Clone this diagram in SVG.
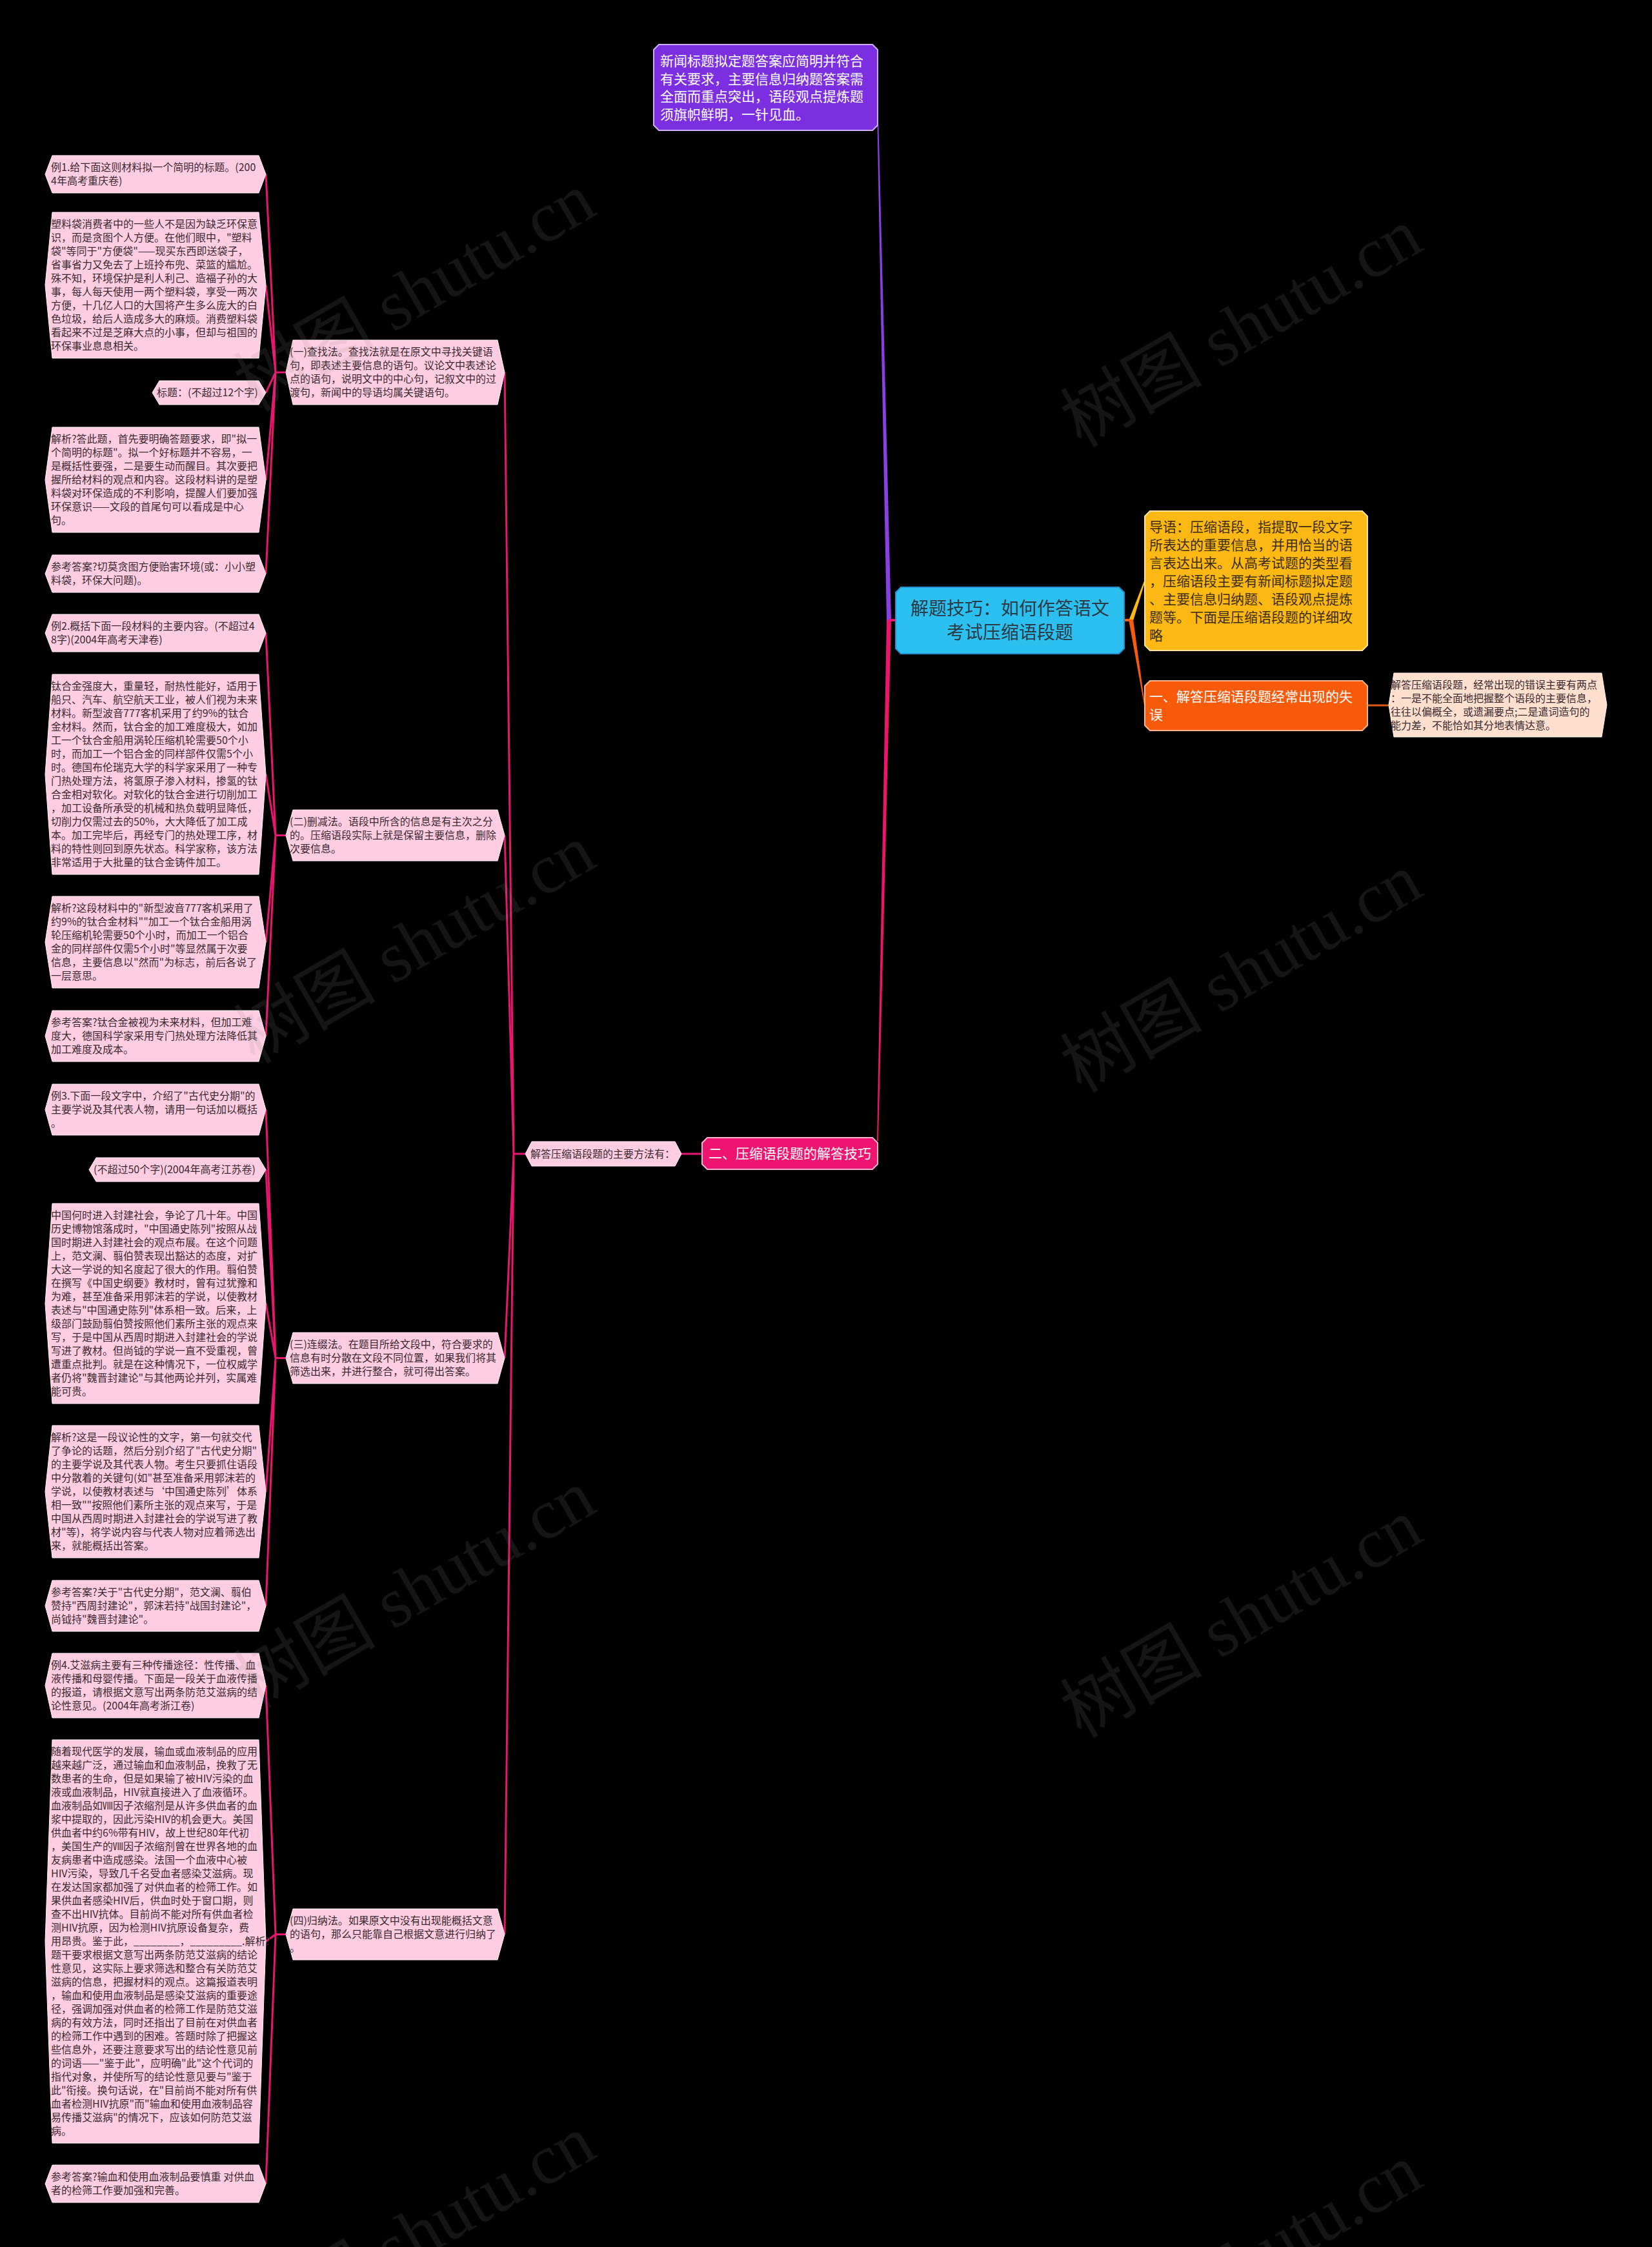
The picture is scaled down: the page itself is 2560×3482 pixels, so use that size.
<svg xmlns="http://www.w3.org/2000/svg" width="2560" height="3482" viewBox="0 0 2560 3482">
<style>
.bg{fill:#000}
.leaf{fill:#ffcde1;stroke:#fff2f7;stroke-width:1}
.t{font-family:"Noto Sans CJK SC","Noto Sans",sans-serif}
.lt{font-size:16px;fill:#3a2a31}
.ln{fill:none;stroke:#e8166e;stroke-width:3;stroke-linejoin:round}
.wm{font-family:"Liberation Serif","Noto Sans CJK SC",serif;font-size:110px;fill:#8a8a8a;opacity:.15}
</style>
<rect class="bg" x="0" y="0" width="2560" height="3482"/>

<g id="connectors">
  <polygon points="1374,961 1381,961 1361.5,194 1359.5,194" fill="#8a3fe3"/>
  <polygon points="1374,961 1381,961 1361,1768 1359,1768" fill="#ec1569"/>
  <rect x="1378" y="959" width="10" height="4" fill="#ec1569"/>
  <rect x="1742" y="959" width="10" height="4" fill="#f65a0c"/>
  <polygon points="1749,962 1756,962 1774.5,901 1773.5,899" fill="#fdb813"/>
  <polygon points="1749,960 1756,960 1774.5,1094 1773,1092" fill="#f65a0c"/>
  <path d="M2119 1093 H2152" fill="none" stroke="#e0561a" stroke-width="3"/>
  <path class="ln" d="M1088 1788 H1056"/>
  <path class="ln" d="M814 1788 H796 L782 577 M796 1788 L782 1294.5 M796 1788 L782 2104.5 M796 1788 L782 2997.5"/>
  <path class="ln" d="M443 577 H427 L412 270 M427 577 L412 442 M427 577 L412 608.5 M427 577 L412 743.5 M427 577 L412 889"/>
  <path class="ln" d="M443 1294.5 H427 L412 981 M427 1294.5 L412 1200 M427 1294.5 L412 1460 M427 1294.5 L412 1605.5"/>
  <path class="ln" d="M443 2104.5 H427 L412 1719.5 M427 2104.5 L412 1812.5 M427 2104.5 L412 2020 M427 2104.5 L412 2311.5 M427 2104.5 L412 2488.5"/>
  <path class="ln" d="M443 2997.5 H427 L412 2612 M427 2997.5 L412 3008.5 M427 2997.5 L412 3384"/>
</g>

<g id="node-top">
  <polygon points="1021,69 1352,69 1360,77 1360,194 1352,202 1021,202 1013,194 1013,77" fill="#7b2fe0" stroke="#cdb0f7" stroke-width="2"/>
  <text class="t" font-size="21" fill="#fff"><tspan x="1023" y="102">新闻标题拟定题答案应简明并符合</tspan><tspan x="1023" y="130">有关要求，主要信息归纳题答案需</tspan><tspan x="1023" y="157">全面而重点突出，语段观点提炼题</tspan><tspan x="1023" y="185">须旗帜鲜明，一针见血。</tspan></text>
</g>

<g id="node-center">
  <polygon points="1396,910 1734,910 1742,918 1742,1005 1734,1013 1396,1013 1388,1005 1388,918" fill="#2bc0f0" stroke="#2a8fd0" stroke-width="2"/>
  <text class="t" font-size="28" fill="#2b3a44" text-anchor="middle"><tspan x="1565" y="953">解题技巧：如何作答语文</tspan><tspan x="1565" y="990">考试压缩语段题</tspan></text>
</g>

<g id="node-intro">
  <polygon points="1782,792 2111,792 2119,800 2119,1000 2111,1008 1782,1008 1774,1000 1774,800" fill="#fdb813" stroke="#ffe39a" stroke-width="2"/>
  <text class="t" font-size="21" fill="#3a2d10"><tspan x="1781" y="824">导语：压缩语段，指提取一段文字</tspan><tspan x="1781" y="852">所表达的重要信息，并用恰当的语</tspan><tspan x="1781" y="880">言表达出来。从高考试题的类型看</tspan><tspan x="1781" y="908">，压缩语段主要有新闻标题拟定题</tspan><tspan x="1781" y="936">、主要信息归纳题、语段观点提炼</tspan><tspan x="1781" y="964">题等。下面是压缩语段题的详细攻</tspan><tspan x="1781" y="992">略</tspan></text>
</g>

<g id="node-part1">
  <polygon points="1782,1055 2111,1055 2119,1063 2119,1124 2111,1132 1782,1132 1774,1124 1774,1063" fill="#f85a0c" stroke="#ffb48c" stroke-width="2"/>
  <text class="t" font-size="21" fill="#fff"><tspan x="1781" y="1087">一、解答压缩语段题经常出现的失</tspan><tspan x="1781" y="1115">误</tspan></text>
</g>

<g id="node-part1-leaf">
  <polygon points="2152,1092.5 2160,1043 2482,1043 2490,1092.5 2482,1142 2160,1142" fill="#ffe0cf" stroke="#fff3ea" stroke-width="1"/>
  <text class="t lt"><tspan x="2155" y="1067">解答压缩语段题，经常出现的错误主要有两点</tspan><tspan x="2155" y="1088">：一是不能全面地把握整个语段的主要信息，</tspan><tspan x="2155" y="1109">往往以偏概全，或遗漏要点;二是遣词造句的</tspan><tspan x="2155" y="1130">能力差，不能恰如其分地表情达意。</tspan></text>
</g>

<g id="node-part2">
  <polygon points="1096,1763 1352,1763 1360,1771 1360,1804 1352,1812 1096,1812 1088,1804 1088,1771" fill="#ef1470" stroke="#ffb3d1" stroke-width="2"/>
  <text class="t" font-size="21" fill="#fff" text-anchor="middle" x="1224" y="1795">二、压缩语段题的解答技巧</text>
</g>

<g id="node-methods">
  <polygon points="814,1788 824,1769 1046,1769 1056,1788 1046,1807 824,1807" class="leaf"/>
  <text class="t lt" x="822" y="1794">解答压缩语段题的主要方法有：</text>
</g>

<g id="node-m1">
  <polygon points="443,577 454,527 771,527 782,577 771,627 454,627" class="leaf"/>
  <text class="t lt"><tspan x="449" y="551">(一)查找法。查找法就是在原文中寻找关键语</tspan><tspan x="449" y="572">句，即表述主要信息的语句。议论文中表述论</tspan><tspan x="449" y="593">点的语句，说明文中的中心句，记叙文中的过</tspan><tspan x="449" y="614">渡句，新闻中的导语均属关键语句。</tspan></text>
</g>

<g id="node-m2">
  <polygon points="443,1294.5 454,1255 771,1255 782,1294.5 771,1334 454,1334" class="leaf"/>
  <text class="t lt"><tspan x="449" y="1279">(二)删减法。语段中所含的信息是有主次之分</tspan><tspan x="449" y="1300">的。压缩语段实际上就是保留主要信息，删除</tspan><tspan x="449" y="1321">次要信息。</tspan></text>
</g>

<g id="node-m3">
  <polygon points="443,2104.5 454,2065 771,2065 782,2104.5 771,2144 454,2144" class="leaf"/>
  <text class="t lt"><tspan x="449" y="2089">(三)连缀法。在题目所给文段中，符合要求的</tspan><tspan x="449" y="2110">信息有时分散在文段不同位置，如果我们将其</tspan><tspan x="449" y="2131">筛选出来，并进行整合，就可得出答案。</tspan></text>
</g>

<g id="node-m4">
  <polygon points="443,2997.5 454,2958 771,2958 782,2997.5 771,3037 454,3037" class="leaf"/>
  <text class="t lt"><tspan x="449" y="2982">(四)归纳法。如果原文中没有出现能概括文意</tspan><tspan x="449" y="3003">的语句，那么只能靠自己根据文意进行归纳了</tspan><tspan x="449" y="3024">。</tspan></text>
</g>

<g id="leaf-1">
  <polygon points="70,270 81,241 401,241 412,270 401,299 81,299" class="leaf"/>
  <text class="t lt"><tspan x="79" y="265">例1.给下面这则材料拟一个简明的标题。(200</tspan><tspan x="79" y="286">4年高考重庆卷)</tspan></text>
</g>

<g id="leaf-2">
  <polygon points="70,442 81,329 401,329 412,442 401,555 81,555" class="leaf"/>
  <text class="t lt"><tspan x="79" y="353">塑料袋消费者中的一些人不是因为缺乏环保意</tspan><tspan x="79" y="374">识，而是贪图个人方便。在他们眼中，"塑料</tspan><tspan x="79" y="395">袋"等同于"方便袋"——现买东西即送袋子，</tspan><tspan x="79" y="416">省事省力又免去了上班拎布兜、菜篮的尴尬。</tspan><tspan x="79" y="437">殊不知，环境保护是利人利己、造福子孙的大</tspan><tspan x="79" y="458">事，每人每天使用一两个塑料袋，享受一两次</tspan><tspan x="79" y="479">方便，十几亿人口的大国将产生多么庞大的白</tspan><tspan x="79" y="500">色垃圾，给后人造成多大的麻烦。消费塑料袋</tspan><tspan x="79" y="521">看起来不过是芝麻大点的小事，但却与祖国的</tspan><tspan x="79" y="542">环保事业息息相关。</tspan></text>
</g>

<g id="leaf-3">
  <polygon points="236,608.5 247,590 401,590 412,608.5 401,627 247,627" class="leaf"/>
  <text class="t lt" x="243" y="614">标题：(不超过12个字)</text>
</g>

<g id="leaf-4">
  <polygon points="70,743.5 81,662 401,662 412,743.5 401,825 81,825" class="leaf"/>
  <text class="t lt"><tspan x="79" y="686">解析?答此题，首先要明确答题要求，即"拟一</tspan><tspan x="79" y="707">个简明的标题"。拟一个好标题并不容易，一</tspan><tspan x="79" y="728">是概括性要强，二是要生动而醒目。其次要把</tspan><tspan x="79" y="749">握所给材料的观点和内容。这段材料讲的是塑</tspan><tspan x="79" y="770">料袋对环保造成的不利影响，提醒人们要加强</tspan><tspan x="79" y="791">环保意识——文段的首尾句可以看成是中心</tspan><tspan x="79" y="812">句。</tspan></text>
</g>

<g id="leaf-5">
  <polygon points="70,889 81,860 401,860 412,889 401,918 81,918" class="leaf"/>
  <text class="t lt"><tspan x="79" y="884">参考答案?切莫贪图方便贻害环境(或：小小塑</tspan><tspan x="79" y="905">料袋，环保大问题)。</tspan></text>
</g>

<g id="leaf-6">
  <polygon points="70,981 81,952 401,952 412,981 401,1010 81,1010" class="leaf"/>
  <text class="t lt"><tspan x="79" y="976">例2.概括下面一段材料的主要内容。(不超过4</tspan><tspan x="79" y="997">8字)(2004年高考天津卷)</tspan></text>
</g>

<g id="leaf-7">
  <polygon points="70,1200 81,1045 401,1045 412,1200 401,1355 81,1355" class="leaf"/>
  <text class="t lt"><tspan x="79" y="1069">钛合金强度大，重量轻，耐热性能好，适用于</tspan><tspan x="79" y="1090">船只、汽车、航空航天工业，被人们视为未来</tspan><tspan x="79" y="1111">材料。新型波音777客机采用了约9%的钛合</tspan><tspan x="79" y="1132">金材料。然而，钛合金的加工难度极大，如加</tspan><tspan x="79" y="1153">工一个钛合金船用涡轮压缩机轮需要50个小</tspan><tspan x="79" y="1174">时，而加工一个铝合金的同样部件仅需5个小</tspan><tspan x="79" y="1195">时。德国布伦瑞克大学的科学家采用了一种专</tspan><tspan x="79" y="1216">门热处理方法，将氢原子渗入材料，掺氢的钛</tspan><tspan x="79" y="1237">合金相对软化。对软化的钛合金进行切削加工</tspan><tspan x="79" y="1258">，加工设备所承受的机械和热负载明显降低，</tspan><tspan x="79" y="1279">切削力仅需过去的50%，大大降低了加工成</tspan><tspan x="79" y="1300">本。加工完毕后，再经专门的热处理工序，材</tspan><tspan x="79" y="1321">料的特性则回到原先状态。科学家称，该方法</tspan><tspan x="79" y="1342">非常适用于大批量的钛合金铸件加工。</tspan></text>
</g>

<g id="leaf-8">
  <polygon points="70,1460 81,1389 401,1389 412,1460 401,1531 81,1531" class="leaf"/>
  <text class="t lt"><tspan x="79" y="1413">解析?这段材料中的"新型波音777客机采用了</tspan><tspan x="79" y="1434">约9%的钛合金材料""加工一个钛合金船用涡</tspan><tspan x="79" y="1455">轮压缩机轮需要50个小时，而加工一个铝合</tspan><tspan x="79" y="1476">金的同样部件仅需5个小时"等显然属于次要</tspan><tspan x="79" y="1497">信息，主要信息以"然而"为标志，前后各说了</tspan><tspan x="79" y="1518">一层意思。</tspan></text>
</g>

<g id="leaf-9">
  <polygon points="70,1605.5 81,1566 401,1566 412,1605.5 401,1645 81,1645" class="leaf"/>
  <text class="t lt"><tspan x="79" y="1590">参考答案?钛合金被视为未来材料，但加工难</tspan><tspan x="79" y="1611">度大，德国科学家采用专门热处理方法降低其</tspan><tspan x="79" y="1632">加工难度及成本。</tspan></text>
</g>

<g id="leaf-10">
  <polygon points="70,1719.5 81,1680 401,1680 412,1719.5 401,1759 81,1759" class="leaf"/>
  <text class="t lt"><tspan x="79" y="1704">例3.下面一段文字中，介绍了"古代史分期"的</tspan><tspan x="79" y="1725">主要学说及其代表人物，请用一句话加以概括</tspan><tspan x="79" y="1746">。</tspan></text>
</g>

<g id="leaf-11">
  <polygon points="138,1812.5 149,1794 401,1794 412,1812.5 401,1831 149,1831" class="leaf"/>
  <text class="t lt" x="145" y="1818">(不超过50个字)(2004年高考江苏卷)</text>
</g>

<g id="leaf-12">
  <polygon points="70,2020 81,1865 401,1865 412,2020 401,2175 81,2175" class="leaf"/>
  <text class="t lt"><tspan x="79" y="1889">中国何时进入封建社会，争论了几十年。中国</tspan><tspan x="79" y="1910">历史博物馆落成时，"中国通史陈列"按照从战</tspan><tspan x="79" y="1931">国时期进入封建社会的观点布展。在这个问题</tspan><tspan x="79" y="1952">上，范文澜、翦伯赞表现出豁达的态度，对扩</tspan><tspan x="79" y="1973">大这一学说的知名度起了很大的作用。翦伯赞</tspan><tspan x="79" y="1994">在撰写《中国史纲要》教材时，曾有过犹豫和</tspan><tspan x="79" y="2015">为难，甚至准备采用郭沫若的学说，以使教材</tspan><tspan x="79" y="2036">表述与"中国通史陈列"体系相一致。后来，上</tspan><tspan x="79" y="2057">级部门鼓励翦伯赞按照他们素所主张的观点来</tspan><tspan x="79" y="2078">写，于是中国从西周时期进入封建社会的学说</tspan><tspan x="79" y="2099">写进了教材。但尚钺的学说一直不受重视，曾</tspan><tspan x="79" y="2120">遭重点批判。就是在这种情况下，一位权威学</tspan><tspan x="79" y="2141">者仍将"魏晋封建论"与其他两论并列，实属难</tspan><tspan x="79" y="2162">能可贵。</tspan></text>
</g>

<g id="leaf-13">
  <polygon points="70,2311.5 81,2209 401,2209 412,2311.5 401,2414 81,2414" class="leaf"/>
  <text class="t lt"><tspan x="79" y="2233">解析?这是一段议论性的文字，第一句就交代</tspan><tspan x="79" y="2254">了争论的话题，然后分别介绍了"古代史分期"</tspan><tspan x="79" y="2275">的主要学说及其代表人物。考生只要抓住语段</tspan><tspan x="79" y="2296">中分散着的关键句(如"甚至准备采用郭沫若的</tspan><tspan x="79" y="2317">学说，以使教材表述与‘中国通史陈列’体系</tspan><tspan x="79" y="2338">相一致""按照他们素所主张的观点来写，于是</tspan><tspan x="79" y="2359">中国从西周时期进入封建社会的学说写进了教</tspan><tspan x="79" y="2380">材"等)，将学说内容与代表人物对应着筛选出</tspan><tspan x="79" y="2401">来，就能概括出答案。</tspan></text>
</g>

<g id="leaf-14">
  <polygon points="70,2488.5 81,2449 401,2449 412,2488.5 401,2528 81,2528" class="leaf"/>
  <text class="t lt"><tspan x="79" y="2473">参考答案?关于"古代史分期"，范文澜、翦伯</tspan><tspan x="79" y="2494">赞持"西周封建论"，郭沫若持"战国封建论"，</tspan><tspan x="79" y="2515">尚钺持"魏晋封建论"。</tspan></text>
</g>

<g id="leaf-15">
  <polygon points="70,2612 81,2562 401,2562 412,2612 401,2662 81,2662" class="leaf"/>
  <text class="t lt"><tspan x="79" y="2586">例4.艾滋病主要有三种传播途径：性传播、血</tspan><tspan x="79" y="2607">液传播和母婴传播。下面是一段关于血液传播</tspan><tspan x="79" y="2628">的报道，请根据文意写出两条防范艾滋病的结</tspan><tspan x="79" y="2649">论性意见。(2004年高考浙江卷)</tspan></text>
</g>

<g id="leaf-16">
  <polygon points="70,3008.5 81,2696 401,2696 412,3008.5 401,3321 81,3321" class="leaf"/>
  <text class="t lt"><tspan x="79" y="2720">随着现代医学的发展，输血或血液制品的应用</tspan><tspan x="79" y="2741">越来越广泛，通过输血和血液制品，挽救了无</tspan><tspan x="79" y="2762">数患者的生命，但是如果输了被HIV污染的血</tspan><tspan x="79" y="2783">液或血液制品，HIV就直接进入了血液循环。</tspan><tspan x="79" y="2804">血液制品如Ⅷ因子浓缩剂是从许多供血者的血</tspan><tspan x="79" y="2825">浆中提取的，因此污染HIV的机会更大。美国</tspan><tspan x="79" y="2846">供血者中约6%带有HIV，故上世纪80年代初</tspan><tspan x="79" y="2867">，美国生产的Ⅷ因子浓缩剂曾在世界各地的血</tspan><tspan x="79" y="2888">友病患者中造成感染。法国一个血液中心被</tspan><tspan x="79" y="2909">HIV污染，导致几千名受血者感染艾滋病。现</tspan><tspan x="79" y="2930">在发达国家都加强了对供血者的检筛工作。如</tspan><tspan x="79" y="2951">果供血者感染HIV后，供血时处于窗口期，则</tspan><tspan x="79" y="2972">查不出HIV抗体。目前尚不能对所有供血者检</tspan><tspan x="79" y="2993">测HIV抗原，因为检测HIV抗原设备复杂，费</tspan><tspan x="79" y="3014">用昂贵。鉴于此，________，_________.解析?</tspan><tspan x="79" y="3035">题干要求根据文意写出两条防范艾滋病的结论</tspan><tspan x="79" y="3056">性意见，这实际上要求筛选和整合有关防范艾</tspan><tspan x="79" y="3077">滋病的信息，把握材料的观点。这篇报道表明</tspan><tspan x="79" y="3098">，输血和使用血液制品是感染艾滋病的重要途</tspan><tspan x="79" y="3119">径，强调加强对供血者的检筛工作是防范艾滋</tspan><tspan x="79" y="3140">病的有效方法，同时还指出了目前在对供血者</tspan><tspan x="79" y="3161">的检筛工作中遇到的困难。答题时除了把握这</tspan><tspan x="79" y="3182">些信息外，还要注意要求写出的结论性意见前</tspan><tspan x="79" y="3203">的词语——"鉴于此"，应明确"此"这个代词的</tspan><tspan x="79" y="3224">指代对象，并使所写的结论性意见要与"鉴于</tspan><tspan x="79" y="3245">此"衔接。换句话说，在"目前尚不能对所有供</tspan><tspan x="79" y="3266">血者检测HIV抗原"而"输血和使用血液制品容</tspan><tspan x="79" y="3287">易传播艾滋病"的情况下，应该如何防范艾滋</tspan><tspan x="79" y="3308">病。</tspan></text>
</g>

<g id="leaf-17">
  <polygon points="70,3384 81,3355 401,3355 412,3384 401,3413 81,3413" class="leaf"/>
  <text class="t lt"><tspan x="79" y="3379">参考答案?输血和使用血液制品要慎重 对供血</tspan><tspan x="79" y="3400">者的检筛工作要加强和完善。</tspan></text>
</g>

<g id="watermarks" class="wm" text-anchor="middle">
  <text x="644" y="490" transform="rotate(-30 644 455)">树图 shutu.cn</text>
  <text x="1925" y="545" transform="rotate(-30 1925 510)">树图 shutu.cn</text>
  <text x="644" y="1500" transform="rotate(-30 644 1465)">树图 shutu.cn</text>
  <text x="1925" y="1545" transform="rotate(-30 1925 1510)">树图 shutu.cn</text>
  <text x="644" y="2500" transform="rotate(-30 644 2465)">树图 shutu.cn</text>
  <text x="1925" y="2545" transform="rotate(-30 1925 2510)">树图 shutu.cn</text>
  <text x="644" y="3500" transform="rotate(-30 644 3465)">树图 shutu.cn</text>
  <text x="1925" y="3545" transform="rotate(-30 1925 3510)">树图 shutu.cn</text>
</g>
</svg>
